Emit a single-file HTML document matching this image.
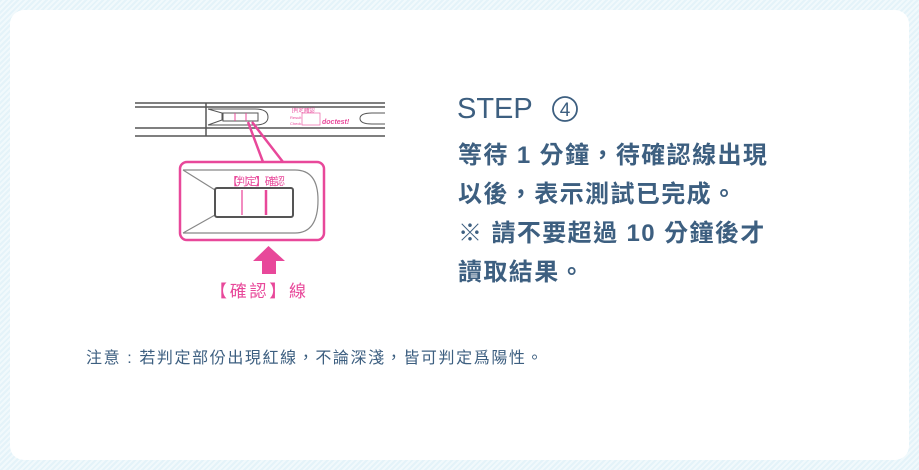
<!DOCTYPE html>
<html><head><meta charset="utf-8"><style>
html,body{margin:0;padding:0}
body{width:919px;height:470px;position:relative;overflow:hidden;
background:repeating-linear-gradient(135deg,#e4f3f9 0 2px,#f1f9fc 2px 4px);}
.card{position:absolute;left:10px;top:10px;width:899px;height:450px;background:#fff;border-radius:14px}
.t{position:absolute;color:#3d5f80;font-family:"Liberation Sans","Noto Sans CJK TC",sans-serif;white-space:nowrap}
</style></head><body>
<div class="card"></div>
<svg width="919" height="470" style="position:absolute;left:0;top:0">
<g stroke="#555" fill="none" stroke-width="1.5">
<line x1="135" y1="103" x2="385" y2="103"/>
<line x1="135" y1="107" x2="385" y2="107"/>
<line x1="135" y1="128" x2="385" y2="128"/>
<line x1="135" y1="136" x2="385" y2="136"/>
<line x1="206" y1="103" x2="206" y2="136"/>
<path d="M208 109 L222 113 L222 120 L208 125 M208 109 L255 109 Q268 109 268 117 Q268 125 255 125 L208 125" stroke-width="1"/>
<rect x="223" y="113" width="35" height="8" stroke-width="1"/>
<path d="M385 113 L372 113 Q360 113 360 118.5 Q360 124 372 124 L385 124" stroke-width="1"/>
<path d="M183 170 L215 190 M183 233 L215 215 M183 170 L295 170 Q318 170 318 200 Q318 233 295 233 L183 233" stroke="#888" stroke-width="1.2"/>
<rect x="215" y="188" width="78" height="29" rx="2" stroke="#555" stroke-width="2"/>
</g>
<g fill="#e8489a" font-family="Liberation Sans,Noto Sans CJK TC,sans-serif">
<line x1="235" y1="113" x2="235" y2="121" stroke="#e8489a" stroke-width="1"/>
<line x1="246" y1="113" x2="246" y2="121" stroke="#e8489a" stroke-width="1"/>
<text x="292" y="112" font-size="5">[判定]確認</text>
<text x="290" y="119" font-size="4">Result</text>
<text x="290" y="125" font-size="4">Check</text>
<rect x="302" y="113" width="18" height="12" fill="none" stroke="#e8489a" stroke-width=".6"/>
<text x="322" y="124" font-size="7" font-weight="bold" font-style="italic">doctest!</text>
<path d="M248 122 L263 162 M252 122 L283 162" stroke="#e8489a" stroke-width="2.5" fill="none"/>
<rect x="180" y="162" width="144" height="78" rx="7" fill="none" stroke="#e8489a" stroke-width="2.5"/>
<line x1="242" y1="190" x2="242" y2="215" stroke="#f28cc0" stroke-width="2"/>
<line x1="266" y1="190" x2="266" y2="215" stroke="#e8489a" stroke-width="2.5"/>
<text x="227" y="185" font-size="11" textLength="58">【判定】確認</text>
<path d="M268.5 246 L285 261 L276 261 L276 274 L262 274 L262 261 L253 261 Z"/>
<text x="210" y="297" font-size="17" textLength="96">【確認】線</text>
</g>
<circle cx="565" cy="109" r="12" fill="none" stroke="#3d5f80" stroke-width="1.8"/>
<text x="565" y="116" font-size="19" fill="#3d5f80" text-anchor="middle" font-family="Liberation Sans,sans-serif">4</text>
</svg>
<div class="t" style="left:457px;top:95px;font-size:29px;line-height:28px;">STEP</div>
<div class="t" style="left:458px;top:136px;font-size:24px;letter-spacing:1.4px;font-weight:bold;line-height:39px">等待 1 分鐘，待確認線出現<br>以後，表示測試已完成。<br>※ 請不要超過 10 分鐘後才<br>讀取結果。</div>
<div class="t" style="left:86px;top:344px;font-size:16px;letter-spacing:1.6px;">注意 : 若判定部份出現紅線，不論深淺，皆可判定爲陽性。</div>
</body></html>
